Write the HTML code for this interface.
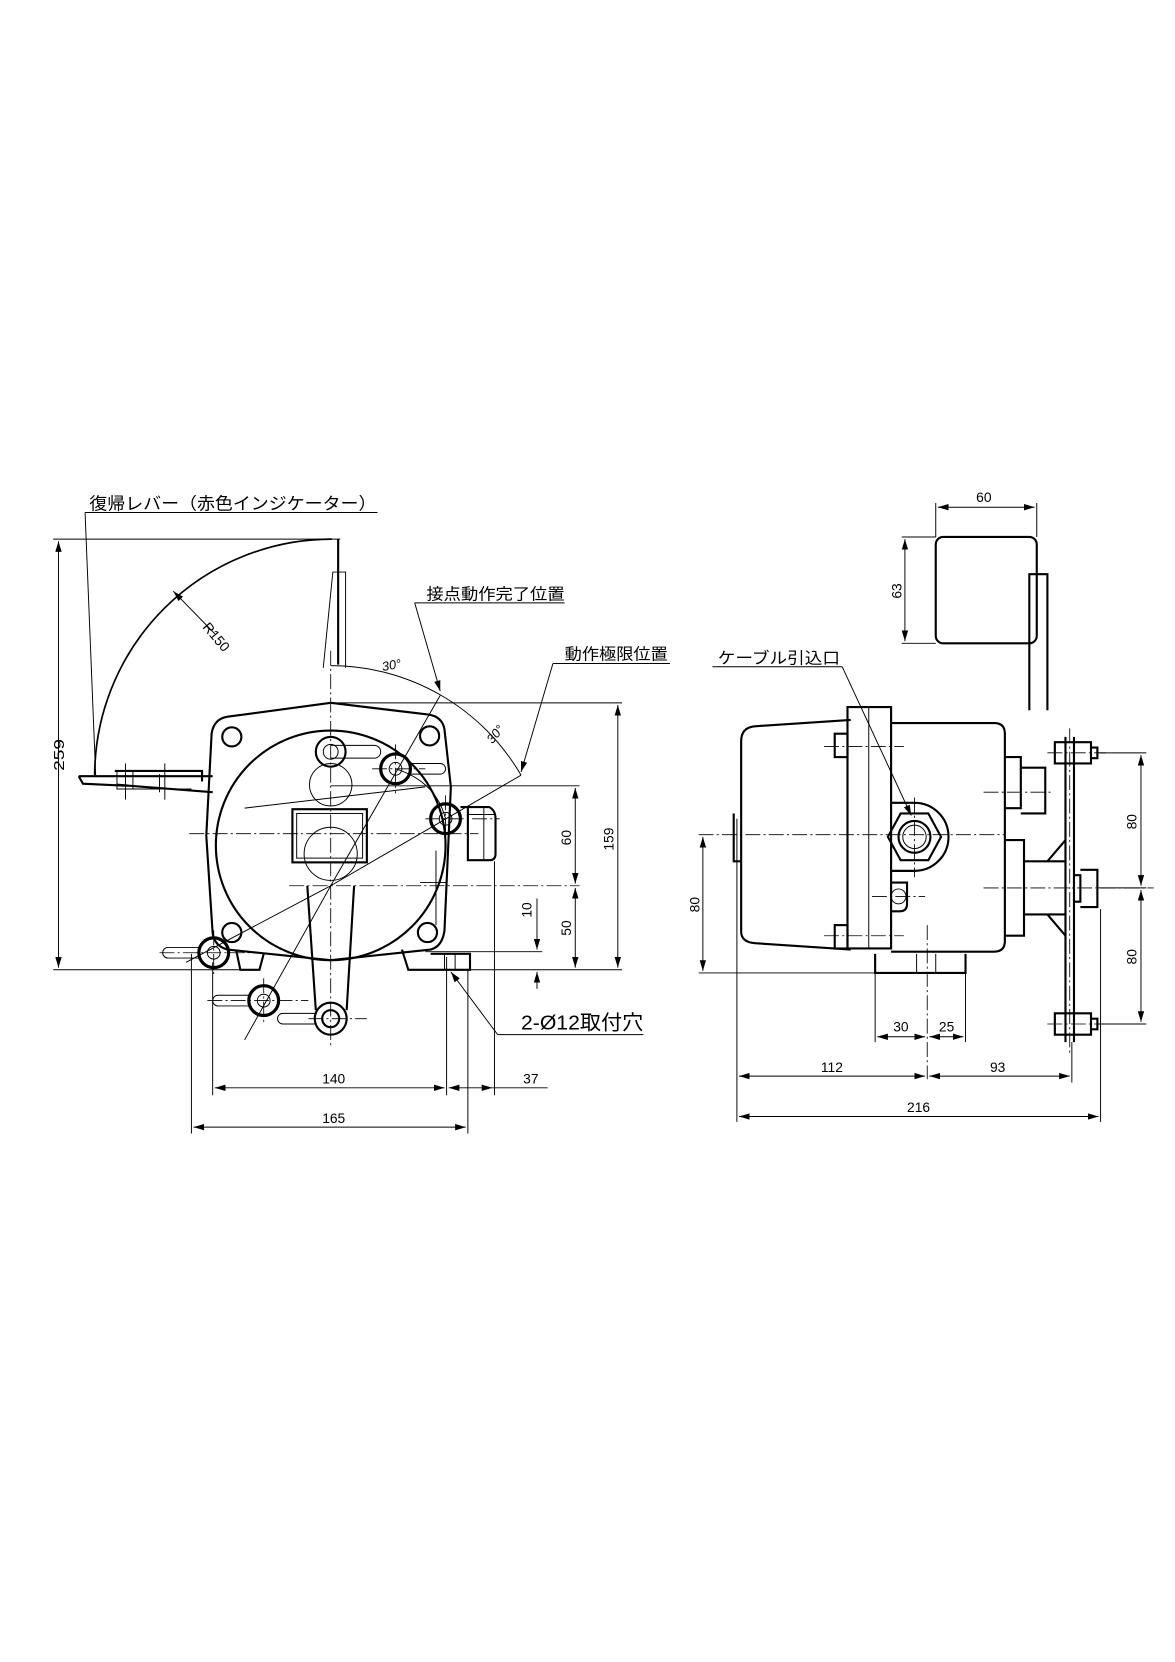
<!DOCTYPE html>
<html><head><meta charset="utf-8"><style>
html,body{margin:0;padding:0;background:#fff;}
svg{display:block;}
text{font-family:"Liberation Sans","Noto Sans CJK JP",sans-serif;fill:#000;}
.t{stroke:#000;stroke-width:0.9;fill:none;}
.k{stroke:#000;stroke-width:2;fill:none;}
.c{stroke:#000;stroke-width:0.8;fill:none;stroke-dasharray:14 3 2 3;}
</style></head><body>
<svg width="1175" height="1662" viewBox="0 0 1105 1563" preserveAspectRatio="none" xmlns="http://www.w3.org/2000/svg">
<defs>
<marker id="a" viewBox="0 0 10 6" refX="10" refY="3" markerWidth="10" markerHeight="6" orient="auto-start-reverse" markerUnits="userSpaceOnUse"><path d="M0,0L10,3L0,6z" fill="#000"/></marker>
</defs>
<rect width="1105" height="1563" fill="#fff"/>

<!-- ============ LEFT VIEW ============ -->
<!-- title -->
<text x="84" y="479" font-size="16" textLength="270" lengthAdjust="spacingAndGlyphs">復帰レバー（赤色インジケーター）</text>
<path class="t" d="M80,482H355 M80,482L90,730"/>
<!-- 259 dim -->
<path class="t" d="M50,507H320 M50,912H240" />
<line class="t" x1="55" y1="509" x2="55" y2="910" marker-start="url(#a)" marker-end="url(#a)"/>
<text x="0" y="0" font-size="14" transform="translate(60,725) rotate(-90)" textLength="30" lengthAdjust="spacingAndGlyphs">259</text>
<!-- R150 arc -->
<path class="k" style="stroke-width:1.6" d="M312,507 A223,223 0 0 0 89,730"/>
<line class="t" x1="163" y1="556" x2="202" y2="596" marker-start="url(#a)"/>
<text font-size="13" transform="translate(190,590) rotate(50)">R150</text>
<!-- lever top -->
<path class="k" d="M318,507V625"/>
<path class="t" d="M304,628L313,538H325V628"/>
<!-- lever bar left -->
<path class="k" d="M74,730H200 M74,730L78,737L120,739 M108,725H190V735 M110,738L200,745"/>
<path class="t" d="M110,725V742H180 M125,725V742 M150,728V745 M118,718V752 M155,718V752"/>

<!-- housing -->
<path class="k" d="M311,661L403,672Q416,674 418,686L424,740L418,875Q416,890 405,893L311,903L214,893Q202,890 200,878L194,786L199,690Q201,676 214,674Z"/>
<circle class="k" cx="311" cy="795" r="108"/>
<circle class="k" cx="218" cy="693" r="9"/><circle class="k" cx="404" cy="692" r="9"/>
<circle class="k" cx="218" cy="877" r="9"/><circle class="k" cx="402" cy="877" r="9"/>
<!-- feet -->
<path class="k" d="M222,893L226,912H244L248,897"/>
<path class="k" d="M378,893L384,912H442V897H405"/>
<path class="t" d="M418,897V912 M428,897V912"/>
<!-- window -->
<rect class="k" x="275" y="761" width="70" height="50"/>
<rect class="t" x="279" y="765" width="62" height="42"/>
<!-- lever mechanism -->
<circle class="k" cx="311" cy="707" r="14"/><circle class="t" cx="311" cy="707" r="7"/>
<path class="t" d="M311,701H352 M311,713H352 M352,701A6,6 0 0 1 352,713"/>
<ellipse class="t" cx="311" cy="738" rx="20" ry="20"/>
<circle class="t" cx="311" cy="803" r="25"/>
<path class="k" d="M289,833L297,950 M333,833L326,950"/>
<circle class="k" cx="311" cy="958" r="15"/><circle class="k" cx="311" cy="958" r="8"/>
<path class="t" d="M266,953H298 M266,963H298 M266,953A5,5 0 0 0 266,963"/>
<!-- small pins -->
<circle class="k" cx="372" cy="723" r="14" style="stroke-width:3"/><circle class="t" cx="372" cy="723" r="6"/>
<path class="t" d="M384,718H414 M384,728H414 M414,718A5,5 0 0 1 414,728"/>
<circle class="k" cx="419" cy="770" r="14" style="stroke-width:3"/><circle class="t" cx="419" cy="770" r="6"/>
<path class="k" d="M433,759H460Q466,762 466,770V803Q466,809 460,809H440V759"/>
<path class="t" d="M440,766H466 M455,760V808"/>
<circle class="k" cx="201" cy="896" r="14" style="stroke-width:3"/><circle class="t" cx="201" cy="896" r="6"/>
<path class="t" d="M189,891H158 M189,901H158 M158,891A5,5 0 0 0 158,901"/>
<circle class="k" cx="248" cy="941" r="14" style="stroke-width:3"/><circle class="t" cx="248" cy="941" r="6"/>
<path class="t" d="M236,936H205 M236,946H205 M205,936A5,5 0 0 0 205,946"/>
<!-- center lines -->
<path class="c" d="M311,612V985 M178,784H450 M272,833H545 M150,896H240 M195,941H290 M290,958H345 M350,723H400 M400,770H470"/>
<path class="c" d="M372,700V746 M419,748V792 M201,875V918 M248,920V962"/>
<!-- radial lines -->
<path class="t" d="M311,833L414,654 M311,833L490,729 M311,833L230,978 M311,833L175,905 M372,723Q410,735 419,770"/>
<path class="t" d="M230,760L400,740 M410,800L410,870 M395,830H420"/>
<!-- 30 deg arc -->
<path class="t" d="M311,626A207,207 0 0 1 490,729"/>
<text font-size="12" font-style="italic" transform="translate(360,631) rotate(-10)">30°</text>
<text font-size="12" font-style="italic" transform="translate(463,700) rotate(-50)">30°</text>
<!-- labels -->
<text x="401" y="564" font-size="15" textLength="130" lengthAdjust="spacingAndGlyphs">接点動作完了位置</text>
<path class="t" d="M390,567H531"/>
<line class="t" x1="390" y1="567" x2="414" y2="650" marker-end="url(#a)"/>
<text x="531" y="620" font-size="15" textLength="97" lengthAdjust="spacingAndGlyphs">動作極限位置</text>
<path class="t" d="M520,624H630"/>
<line class="t" x1="520" y1="624" x2="490" y2="726" marker-end="url(#a)"/>
<!-- right dims -->
<path class="t" d="M311,661H585 M311,739H545 M400,895H510 M440,912H585"/>
<line class="t" x1="541" y1="741" x2="541" y2="831" marker-start="url(#a)" marker-end="url(#a)"/>
<line class="t" x1="541" y1="835" x2="541" y2="910" marker-start="url(#a)" marker-end="url(#a)"/>
<line class="t" x1="581" y1="663" x2="581" y2="910" marker-start="url(#a)" marker-end="url(#a)"/>
<line class="t" x1="505" y1="845" x2="505" y2="893" marker-end="url(#a)"/>
<line class="t" x1="505" y1="930" x2="505" y2="914" marker-end="url(#a)"/>
<text font-size="13" transform="translate(537,795) rotate(-90)">60</text>
<text font-size="13" transform="translate(537,880) rotate(-90)">50</text>
<text font-size="13" transform="translate(500,863) rotate(-90)">10</text>
<text font-size="13" transform="translate(577,800) rotate(-90)">159</text>
<!-- bottom dims -->
<path class="t" d="M200,905V1030 M420,900V1030 M465,810V1030 M180,897V1066 M440,912V1066"/>
<line class="t" x1="202" y1="1023" x2="418" y2="1023" marker-start="url(#a)" marker-end="url(#a)"/>
<line class="t" x1="422" y1="1023" x2="463" y2="1023" marker-start="url(#a)" marker-end="url(#a)"/>
<path class="t" d="M463,1023H515"/>
<line class="t" x1="182" y1="1060" x2="438" y2="1060" marker-start="url(#a)" marker-end="url(#a)"/>
<text x="303" y="1019" font-size="13">140</text>
<text x="492" y="1019" font-size="13">37</text>
<text x="303" y="1056" font-size="13">165</text>
<text x="490" y="968" font-size="19" textLength="115" lengthAdjust="spacingAndGlyphs">2-Ø12取付穴</text>
<path class="t" d="M468,973H605"/>
<line class="t" x1="468" y1="973" x2="424" y2="914" marker-end="url(#a)"/>

<!-- ============ RIGHT VIEW ============ -->
<!-- top box -->
<rect class="k" x="880" y="505" width="95" height="100" rx="7"/>
<path class="k" d="M968,668V540H985V668"/>
<path class="t" d="M880,473V505 M975,473V505 M848,505H880 M848,605H880"/>
<line class="t" x1="882" y1="477" x2="973" y2="477" marker-start="url(#a)" marker-end="url(#a)"/>
<line class="t" x1="851" y1="507" x2="851" y2="603" marker-start="url(#a)" marker-end="url(#a)"/>
<text x="918" y="472" font-size="13">60</text>
<text font-size="13" transform="translate(848,563) rotate(-90)">63</text>
<!-- body -->
<path class="k" d="M800,677L710,683Q697,684 697,697V876Q697,886 710,887L800,893"/>
<path class="k" d="M838,680H935Q945,680 945,690V885Q945,895 935,895H838"/>
<path class="k" d="M797,665H838V892H797Z"/>
<path class="t" d="M817,665V892"/>
<path class="k" d="M690,765V810H697"/>
<rect class="k" x="785" y="690" width="12" height="22"/>
<rect class="k" x="785" y="870" width="12" height="22"/>
<path class="c" d="M775,702H850 M775,880H850"/>
<!-- cable entry -->
<path class="k" d="M838,755H860A32,32 0 0 1 860,819H838"/>
<polygon class="k" points="847,765 873,765 885,787 873,809 847,809 835,787"/>
<circle class="k" cx="860" cy="787" r="15"/><circle class="t" cx="860" cy="787" r="11"/>
<path class="k" d="M838,830H853V850Q853,857 846,857H838"/>
<circle class="t" cx="845" cy="843" r="7"/>
<path class="c" d="M860,750V825 M820,843H870 M657,785H945 M925,745H990 M925,835H1085 M872,870V1015"/>
<!-- right attachments -->
<path class="k" d="M945,712H960V760H945 M960,722H983V765H960"/>
<path class="k" d="M945,790H963V880H945 M963,810H1003 M963,860H1003 M985,810L1002,790 M985,860L1002,880"/>
<path class="k" d="M1002,693V980 M1010,693V980"/>
<path class="k" d="M1010,823H1016V848H1010 M1016,818H1032V853H1016"/>
<path class="k" d="M992,698H1026V718H992Z M992,953H1026V973H992Z"/>
<path class="k" d="M1026,703H1032V713H1026 M1026,958H1032V968H1026"/>
<path class="c" d="M985,708H1040 M985,963H1040 M1006,685V990"/>
<!-- base -->
<path class="k" d="M823,897V915H908V897"/>
<path class="t" d="M862,897V915 M880,897V915"/>
<!-- left 80 -->
<path class="t" d="M657,915H823"/>
<line class="t" x1="661" y1="787" x2="661" y2="913" marker-start="url(#a)" marker-end="url(#a)"/>
<text font-size="13" transform="translate(658,858) rotate(-90)">80</text>
<!-- right 80s -->
<path class="t" d="M1032,708H1078 M1032,963H1078 M1032,835H1078"/>
<line class="t" x1="1073" y1="710" x2="1073" y2="833" marker-start="url(#a)" marker-end="url(#a)"/>
<line class="t" x1="1073" y1="837" x2="1073" y2="961" marker-start="url(#a)" marker-end="url(#a)"/>
<text font-size="13" transform="translate(1069,780) rotate(-90)">80</text>
<text font-size="13" transform="translate(1069,907) rotate(-90)">80</text>
<!-- bottom dims -->
<path class="t" d="M823,915V980 M908,915V980 M693,770V1055 M1008,980V1018 M1035,855V1055"/>
<line class="t" x1="825" y1="975" x2="870" y2="975" marker-start="url(#a)" marker-end="url(#a)"/>
<line class="t" x1="874" y1="975" x2="906" y2="975" marker-start="url(#a)" marker-end="url(#a)"/>
<line class="t" x1="695" y1="1012" x2="870" y2="1012" marker-start="url(#a)" marker-end="url(#a)"/>
<line class="t" x1="874" y1="1012" x2="1006" y2="1012" marker-start="url(#a)" marker-end="url(#a)"/>
<line class="t" x1="695" y1="1050" x2="1033" y2="1050" marker-start="url(#a)" marker-end="url(#a)"/>
<text x="840" y="970" font-size="13">30</text>
<text x="883" y="970" font-size="13">25</text>
<text x="772" y="1008" font-size="13">112</text>
<text x="931" y="1008" font-size="13">93</text>
<text x="853" y="1046" font-size="13">216</text>
<text x="675" y="624" font-size="15" textLength="115" lengthAdjust="spacingAndGlyphs">ケーブル引込口</text>
<path class="t" d="M670,627H792"/>
<line class="t" x1="792" y1="627" x2="857" y2="767" marker-end="url(#a)"/>
</svg>
</body></html>
